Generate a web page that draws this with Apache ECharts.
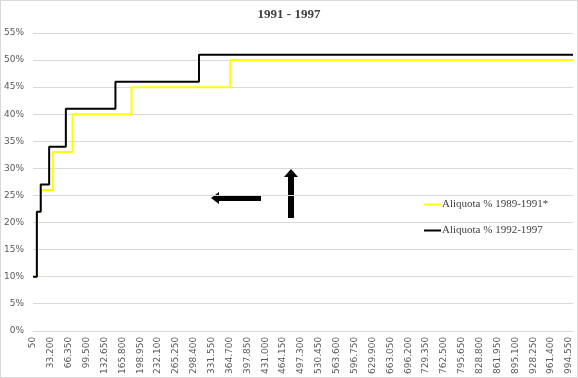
<!DOCTYPE html>
<html>
<head>
<meta charset="utf-8">
<script src="https://cdn.jsdelivr.net/npm/echarts@6/dist/echarts.min.js"></script>
<style>
  html, body { margin: 0; padding: 0; background: #fff; }
  #chart { width: 576px; height: 376px; border: 1px solid #d9d9d9; }
</style>
</head>
<body>
<div id="chart"></div>
<script>
  // scaglioni di reddito (punti di cambio aliquota) e aliquote
  var xMin = 50;
  var xMax = 1002000;
  var xStep = 33150;
  var steps8991 = [50, 7300, 14600, 36900, 73300, 183000, 366000, 1002000];
  var rates8991 = [10, 22, 26, 33, 40, 45, 50, 50];
  var steps9297 = [50, 7200, 14400, 30000, 61000, 153000, 308000, 1002000];
  var rates9297 = [10, 22, 27, 34, 41, 46, 51, 51];

  function pairs (xs, ys) {
    return xs.map(function (x, i) { return [x, ys[i] / 100]; });
  }

  function fmtThousands (v) {
    return String(Math.round(v)).replace(/\B(?=(\d{3})+(?!\d))/g, '.');
  }

  var chart = echarts.init(document.getElementById('chart'));
  chart.setOption({
    animation: false,
    title: {
      text: '1991 - 1997',
      left: 'center',
      top: 2,
      textStyle: {
        fontFamily: 'Liberation Serif',
        fontSize: 13,
        fontWeight: 'bold',
        color: '#404040'
      }
    },
    legend: {
      orient: 'vertical',
      left: 423,
      top: 198,
      padding: 0,
      itemGap: 15,
      itemWidth: 17,
      itemHeight: 2,
      icon: 'rect',
      textStyle: {
        fontFamily: 'Liberation Serif',
        fontSize: 11,
        color: '#404040',
        padding: [0, 0, 0, -4]
      },
      data: ['Aliquota % 1989-1991*', 'Aliquota % 1992-1997']
    },
    grid: {
      left: 30,
      right: 4,
      top: 32,
      bottom: 42
    },
    xAxis: {
      type: 'value',
      min: xMin,
      max: xMax,
      interval: xStep,
      splitLine: { show: false },
      axisTick: { show: false },
      axisLine: { lineStyle: { color: '#d9d9d9' } },
      axisLabel: {
        rotate: 90,
        fontSize: 9,
        color: '#595959',
        fontFamily: 'DejaVu Sans',
        margin: 6,
        showMaxLabel: false,
        formatter: function (v) {
          if ((v - xMin) % xStep !== 0) return '';
          return fmtThousands(v);
        }
      }
    },
    yAxis: {
      type: 'value',
      min: 0,
      max: 0.55,
      interval: 0.05,
      axisLine: { show: false },
      axisTick: { show: false },
      splitLine: { lineStyle: { color: '#d9d9d9', width: 1 } },
      axisLabel: {
        fontSize: 9,
        color: '#595959',
        fontFamily: 'DejaVu Sans',
        margin: 9,
        formatter: function (v) { return Math.round(v * 100) + '%'; }
      }
    },
    series: [{
      name: 'Aliquota % 1989-1991*',
      type: 'line',
      step: 'end',
      symbol: 'none',
      color: '#ffff00',
      lineStyle: { width: 2, color: '#ffff00' },
      data: pairs(steps8991, rates8991)
    }, {
      name: 'Aliquota % 1992-1997',
      type: 'line',
      step: 'end',
      symbol: 'none',
      color: '#000000',
      lineStyle: { width: 2, color: '#000000' },
      data: pairs(steps9297, rates9297)
    }],
    graphic: [{
      type: 'polygon',
      shape: {
        points: [[210, 197], [218, 191], [218, 194], [260, 194], [260, 200], [218, 200], [218, 203]]
      },
      style: { fill: '#000' }
    }, {
      type: 'polygon',
      shape: {
        points: [[290, 168], [297, 176], [293, 176], [293, 217], [287, 217], [287, 176], [283, 176]]
      },
      style: { fill: '#000' }
    }]
  });
</script>
</body>
</html>
